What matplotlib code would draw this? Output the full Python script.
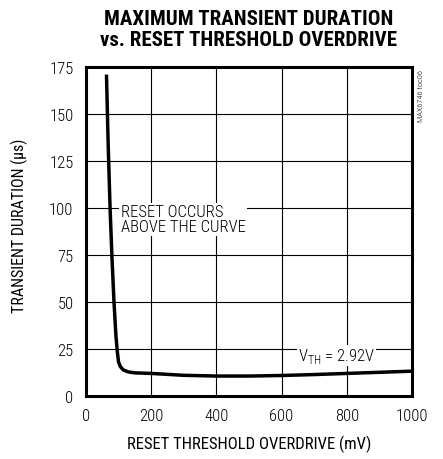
import matplotlib
matplotlib.use("Agg")
import matplotlib.pyplot as plt

# data
overdrive_mv = [63, 68, 74, 80, 86, 92, 96, 100, 106, 115, 130, 150, 200, 300, 400, 500, 600, 700, 800, 900, 1000]
duration_us = [171, 135, 100, 73, 50, 32, 24, 18, 15.5, 13.8, 12.8, 12.3, 12.0, 11.0, 10.6, 10.6, 10.9, 11.4, 12.0, 12.6, 13.2]

x_ticks = [0, 200, 400, 600, 800, 1000]
y_ticks = [0, 25, 50, 75, 100, 125, 150, 175]

plt.rcParams['font.family'] = ['Roboto Condensed', 'DejaVu Sans']
plt.rcParams['font.weight'] = 'light'

fig = plt.figure(figsize=(4.43, 4.60), dpi=100)
ax = fig.add_axes([0.194, 0.137, 0.736, 0.715])

ax.plot(overdrive_mv, duration_us, color='black', lw=2.5, solid_capstyle='butt', zorder=3)

ax.set_xlim(0, 1000)
ax.set_ylim(0, 175)
ax.set_xticks(x_ticks)
ax.set_yticks(y_ticks)
ax.grid(True, color='black', lw=0.8)
ax.tick_params(length=0, labelsize=12, pad=9)
for s in ax.spines.values():
    s.set_linewidth(2.2)

ax.set_xlabel("RESET THRESHOLD OVERDRIVE (mV)", fontsize=12, labelpad=8)
ax.set_ylabel("TRANSIENT DURATION (\u00b5s)", fontsize=11.5)
ax.yaxis.set_label_coords(-0.178, 0.52)

fig.text(0.562, 0.935, "MAXIMUM TRANSIENT DURATION\nvs. RESET THRESHOLD OVERDRIVE",
         ha='center', va='center', fontsize=15, fontweight='bold', linespacing=1.1)

ax.text(106, 94, "RESET OCCURS\nABOVE THE CURVE", fontsize=12, ha='left', va='center',
        linespacing=1.0, bbox=dict(facecolor='white', edgecolor='none', pad=1), zorder=4)
ax.text(650, 21.5, "V$_{\\mathregular{TH}}$ = 2.92V", fontsize=12, ha='left', va='center',
        bbox=dict(facecolor='white', edgecolor='none', pad=1), zorder=4)

fig.text(0.951, 0.848, "MAX6746 toc06", rotation=90, fontsize=6, ha='center', va='top')

fig.savefig("out.png", dpi=100)
